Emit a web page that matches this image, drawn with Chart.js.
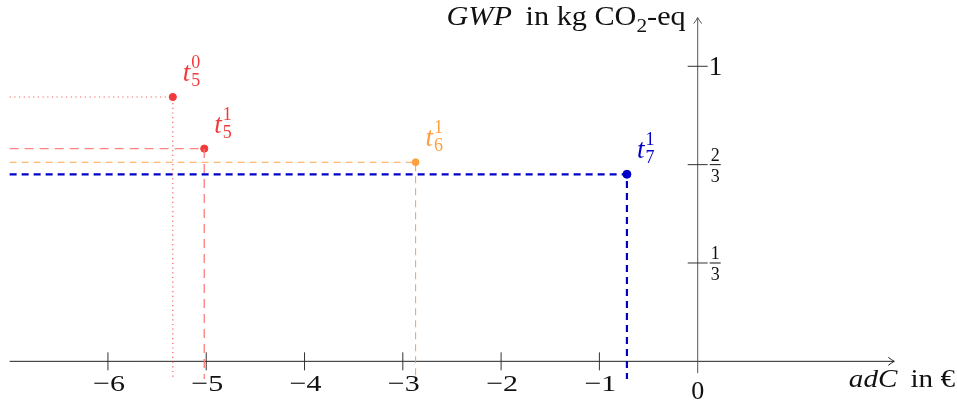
<!DOCTYPE html>
<html>
<head>
<meta charset="utf-8">
<script src="https://cdn.jsdelivr.net/npm/chart.js@4.4.1/dist/chart.umd.min.js"></script>
<style>
  html, body { margin: 0; padding: 0; background: #fff; }
  #wrap { width: 957px; height: 405px; }
</style>
</head>
<body>
<div id="wrap"><canvas id="chart" width="957" height="405"></canvas></div>
<script>
// values
const adcValues = [-5.34, -5.02, -2.87, -0.72];
const gwpValues = [0.896, 0.721, 0.675, 0.634];
const labelSub = ['5', '5', '6', '7'];
const labelSup = ['0', '1', '1', '1'];

const xTickValues = [-6, -5, -4, -3, -2, -1];
const xTickLabels = ['\u22126', '\u22125', '\u22124', '\u22123', '\u22122', '\u22121'];
const yTickValues = [1 / 3, 2 / 3, 1];
const yTickLabels = [['1', '3'], ['2', '3'], ['1']];

// guide line ends and axis extents (data units)
const GUIDE_LEFT = -7.0;
const GUIDE_BOTTOM = -0.06;
const X_AXIS = [-7.0, 2.0];
const Y_AXIS = [-0.04, 1.165];

const styles = [
    { color: '#f23a3a', line: 'rgba(242,58,58,0.8)', dash: [1.2, 3.5], width: 1.2, r: 3.6 },
    { color: '#f23a3a', line: 'rgba(255,120,120,0.9)', dash: [9, 6], width: 1.4, r: 3.6 },
    { color: '#ff9f40', line: 'rgba(255,160,70,0.95)', dash: [7, 5], width: 1.1, r: 3.4 },
    { color: '#0000c8', line: '#0000c8', dash: [7, 5], width: 2.2, r: 4 }
];

const SERIF = '"Liberation Serif", "DejaVu Serif", serif';

const datasets = [];
adcValues.forEach((a, i) => {
    const s = styles[i];
    datasets.push({
        type: 'line',
        data: [
            { x: GUIDE_LEFT, y: gwpValues[i] },
            { x: a, y: gwpValues[i] },
            { x: a, y: GUIDE_BOTTOM }
        ],
        borderColor: s.line,
        borderWidth: s.width,
        borderDash: s.dash,
        pointRadius: 0,
        fill: false,
        tension: 0
    });
});
datasets.push({
    type: 'scatter',
    data: adcValues.map((a, i) => ({ x: a, y: gwpValues[i] })),
    backgroundColor: styles.map(s => s.color),
    borderColor: styles.map(s => s.color),
    pointRadius: styles.map(s => s.r),
    pointHoverRadius: styles.map(s => s.r)
});

function arrowHead(ctx, x, y, dir) {
    // small open tikz-like arrow
    ctx.beginPath();
    if (dir === 'right') {
        ctx.moveTo(x - 6, y - 4); ctx.quadraticCurveTo(x - 2, y - 1, x, y);
        ctx.quadraticCurveTo(x - 2, y + 1, x - 6, y + 4);
    } else {
        ctx.moveTo(x - 4, y + 6); ctx.quadraticCurveTo(x - 1, y + 2, x, y);
        ctx.quadraticCurveTo(x + 1, y + 2, x + 4, y + 6);
    }
    ctx.stroke();
}

// draw text stretched a little to get closer to the wide TeX fonts
function wideText(ctx, text, x, y, sx) {
    ctx.save();
    ctx.translate(x, y);
    ctx.scale(sx, 1);
    ctx.fillText(text, 0, 0);
    ctx.restore();
}

const STRETCH = 1.12;

const axesPlugin = {
    id: 'tikzAxes',
    beforeDatasetsDraw(chart) {
        const ctx = chart.ctx;
        const xs = chart.scales.x, ys = chart.scales.y;
        const x0 = xs.getPixelForValue(0), y0 = ys.getPixelForValue(0);
        ctx.save();
        ctx.strokeStyle = '#222';
        ctx.lineWidth = 1;
        // x axis
        const xl = xs.getPixelForValue(X_AXIS[0]), xr = xs.getPixelForValue(X_AXIS[1]);
        ctx.beginPath(); ctx.moveTo(xl, y0); ctx.lineTo(xr, y0); ctx.stroke();
        arrowHead(ctx, xr, y0, 'right');
        // y axis
        const yb = ys.getPixelForValue(Y_AXIS[0]), yt = ys.getPixelForValue(Y_AXIS[1]);
        ctx.strokeStyle = '#555';
        ctx.beginPath(); ctx.moveTo(x0, yb); ctx.lineTo(x0, yt); ctx.stroke();
        arrowHead(ctx, x0, yt, 'up');
        // ticks
        ctx.strokeStyle = '#333';
        xTickValues.forEach(v => {
            const px = xs.getPixelForValue(v);
            ctx.beginPath(); ctx.moveTo(px, y0 - 9); ctx.lineTo(px, y0 + 9); ctx.stroke();
        });
        yTickValues.forEach(v => {
            const py = ys.getPixelForValue(v);
            ctx.beginPath(); ctx.moveTo(x0 - 10, py); ctx.lineTo(x0 + 10, py); ctx.stroke();
        });
        ctx.restore();
    },
    afterDatasetsDraw(chart) {
        const ctx = chart.ctx;
        const xs = chart.scales.x, ys = chart.scales.y;
        const x0 = xs.getPixelForValue(0), y0 = ys.getPixelForValue(0);
        ctx.save();
        ctx.fillStyle = '#111';
        ctx.textBaseline = 'alphabetic';

        // x tick labels
        ctx.font = '24px ' + SERIF;
        ctx.textAlign = 'left';
        xTickValues.forEach((v, i) => {
            const w = ctx.measureText(xTickLabels[i]).width * 1.25;
            ctx.save();
            ctx.translate(xs.getPixelForValue(v) + 1 - w / 2, y0 + 30);
            ctx.scale(1.25, 1);
            ctx.fillText(xTickLabels[i], 0, 0);
            ctx.restore();
        });
        ctx.font = '26px ' + SERIF;
        ctx.textAlign = 'center';
        ctx.fillText('0', x0, y0 + 38);

        // y tick labels
        ctx.textAlign = 'left';
        yTickValues.forEach((v, i) => {
            const py = ys.getPixelForValue(v);
            const lab = yTickLabels[i];
            if (lab.length === 1) {
                ctx.font = '27px ' + SERIF;
                ctx.fillText(lab[0], x0 + 11, py + 9);
            } else {
                ctx.font = '18px ' + SERIF;
                const w = Math.max(ctx.measureText(lab[0]).width, ctx.measureText(lab[1]).width);
                const lx = x0 + 13;
                ctx.textAlign = 'center';
                ctx.fillText(lab[0], lx + w / 2, py - 4);
                ctx.fillText(lab[1], lx + w / 2, py + 17);
                ctx.fillRect(lx - 1, py - 0.5, w + 2, 1);
                ctx.textAlign = 'left';
            }
        });

        // y axis title, right aligned at the arrow
        const parts = [
            { t: 'GWP', f: 'italic 27px ' + SERIF, dy: 0 },
            { t: ' \u2009in kg ', f: '27px ' + SERIF, dy: 0 },
            { t: 'CO', f: '27px ' + SERIF, dy: 0 },
            { t: '2', f: '19px ' + SERIF, dy: 7 },
            { t: '-eq', f: '27px ' + SERIF, dy: 0 }
        ];
        let total = 0;
        parts.forEach(p => { ctx.font = p.f; p.w = ctx.measureText(p.t).width * STRETCH; total += p.w; });
        let tx = x0 - 12 - total;
        parts.forEach(p => {
            ctx.font = p.f;
            wideText(ctx, p.t, tx, 25 + p.dy, STRETCH);
            tx += p.w;
        });

        // x axis title
        const xparts = [
            { t: 'adC', f: 'italic 26px ' + SERIF },
            { t: ' \u2009in \u20ac', f: '26px ' + SERIF }
        ];
        let xw = 0;
        xparts.forEach(p => { ctx.font = p.f; p.w = ctx.measureText(p.t).width * STRETCH; xw += p.w; });
        let ax = 955 - xw;
        xparts.forEach(p => { ctx.font = p.f; wideText(ctx, p.t, ax, y0 + 26, STRETCH); ax += p.w; });

        // point labels t_sub^sup
        adcValues.forEach((a, i) => {
            const px = xs.getPixelForValue(a), py = ys.getPixelForValue(gwpValues[i]);
            const bx = px + 10, by = py - 16;
            ctx.fillStyle = styles[i].color;
            ctx.font = 'italic 27px ' + SERIF;
            ctx.fillText('t', bx, by);
            const tw = ctx.measureText('t').width;
            ctx.font = '18px ' + SERIF;
            ctx.fillText(labelSup[i], bx + tw + 1, by - 13);
            ctx.fillText(labelSub[i], bx + tw + 1, by + 5);
        });
        ctx.restore();
    }
};

new Chart(document.getElementById('chart'), {
    type: 'scatter',
    data: { datasets: datasets },
    options: {
        responsive: false,
        animation: false,
        layout: { padding: 0, autoPadding: false },
        plugins: { legend: { display: false }, tooltip: { enabled: false } },
        scales: {
            x: { type: 'linear', min: -7.098, max: 2.638, display: false },
            y: { type: 'linear', min: -0.148, max: 1.2247, display: false }
        }
    },
    plugins: [axesPlugin]
});
</script>
</body>
</html>
